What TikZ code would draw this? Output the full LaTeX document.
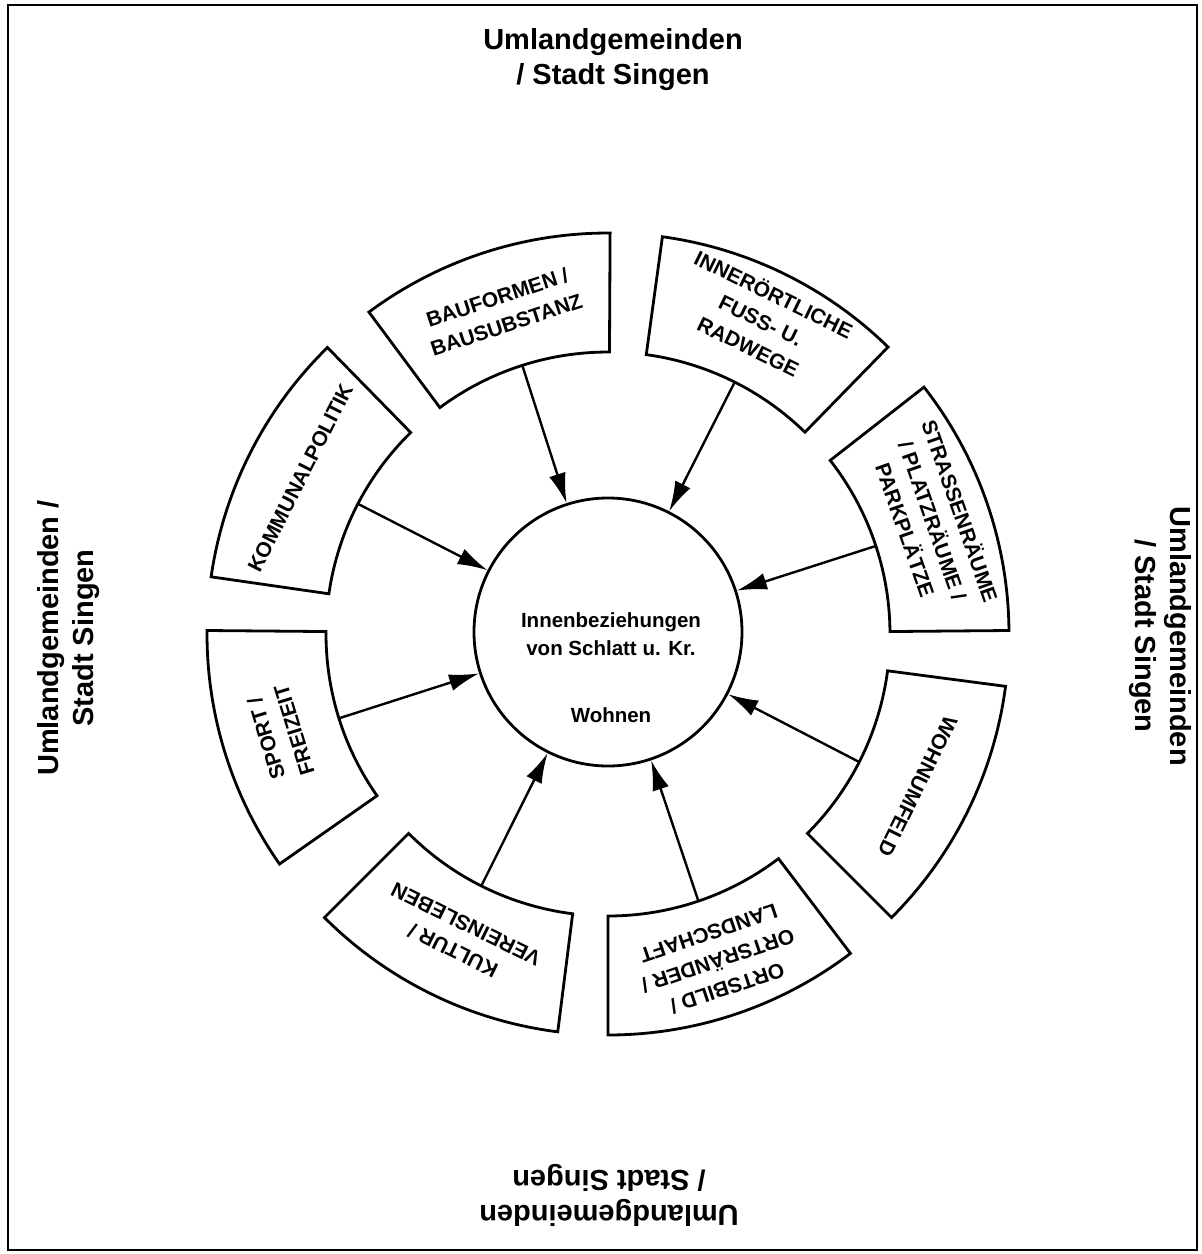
\documentclass[tikz,border=0pt]{standalone}
\usepackage{fontspec}
\setmainfont{Liberation Sans}
\usetikzlibrary{arrows.meta,calc}
\begin{document}
\begin{tikzpicture}[x=1pt,y=1pt,
  boxline/.style={line width=2.8pt, line join=miter},
  arr/.style={line width=2.4pt, -{Latex[length=30pt,width=17pt]}},
  lbl/.style={font=\fontsize{21}{29}\selectfont\bfseries, align=center, inner sep=0pt},
  ttl/.style={font=\fontsize{29}{35}\selectfont\bfseries, align=center, inner sep=0pt},
  ctr/.style={font=\fontsize{20.5}{28}\selectfont\bfseries, align=center, inner sep=0pt}]
\useasboundingbox (0,0) rectangle (1202,-1254);
\fill[white] (0,0) rectangle (1202,-1254);
\draw[line width=2pt] (8,-5) rectangle (1197,-1250);
\coordinate (O) at (608,-634);
% centre circle
\node[circle, draw, line width=2.8pt, minimum size=268pt, inner sep=0pt] (c) at (608,-632) {};
\node[ctr] (ctxt) at (611,-634) {Innenbeziehungen\\von Schlatt u. Kr.};
\node[ctr] (wohnen) at (611,-715) {Wohnen};
% ring boxes
\foreach \a/\b/\m [count=\i] in {0.5/38/18.2, 45.7/82.2/63.3, 89.7/126.6/107.7, 134.4/171.8/152.5, 179.5/215/197.4, 225/262.8/243.3, 270/307.2/288.7, 315/352.5/333}{
  \draw[boxline] ($(O)+(\a:282pt)$) arc[start angle=\a, end angle=\b, radius=282pt]
     -- ($(O)+(\b:401pt)$) arc[start angle=\b, end angle=\a, radius=401pt] -- cycle;
  \coordinate (s\i) at ($(O)+(\m:282pt)$);
}
% labels
\node[lbl, rotate=-70.75] (l1) at ($(O)+(19.25:345pt)$) {STRASSENRÄUME\\/ PLATZRÄUME /\\PARKPLÄTZE};
\node[lbl, rotate=-26] (l2) at ($(O)+(64:350pt)$) {INNERÖRTLICHE\\FUSS- U.\\RADWEGE};
\node[lbl, rotate=18.2] (l3) at ($(O)+(108.2:340pt)$) {BAUFORMEN /\\BAUSUBSTANZ};
\node[lbl, rotate=63.1] (l4) at ($(O)+(153.1:345pt)$) {KOMMUNALPOLITIK};
\node[lbl, rotate=107] (l5) at ($(O)+(197:343pt)$) {SPORT /\\FREIZEIT};
\node[lbl, rotate=153.9] (l6) at ($(O)+(243.9:338pt)$) {KULTUR /\\VEREINSLEBEN};
\node[lbl, rotate=198.6] (l7) at ($(O)+(288.6:345pt)$) {ORTSBILD /\\ORTSRÄNDER /\\LANDSCHAFT};
\node[lbl, rotate=243.8] (l8) at ($(O)+(333.8:345pt)$) {WOHNUMFELD};
% arrows
\foreach \i in {1,...,8}{ \draw[arr] (s\i) -- (c); }
% outer titles
\node[ttl] (tt) at (613,-60) {Umlandgemeinden\\/ Stadt Singen};
\node[ttl, rotate=90] (tl) at (69,-638) {Umlandgemeinden /\\Stadt Singen};
\node[ttl, rotate=-90] (tr) at (1160,-636) {Umlandgemeinden\\/ Stadt Singen};
\node[ttl, rotate=180] (tb) at (609,-1195) {Umlandgemeinden\\/ Stadt Singen};
\end{tikzpicture}
\end{document}
